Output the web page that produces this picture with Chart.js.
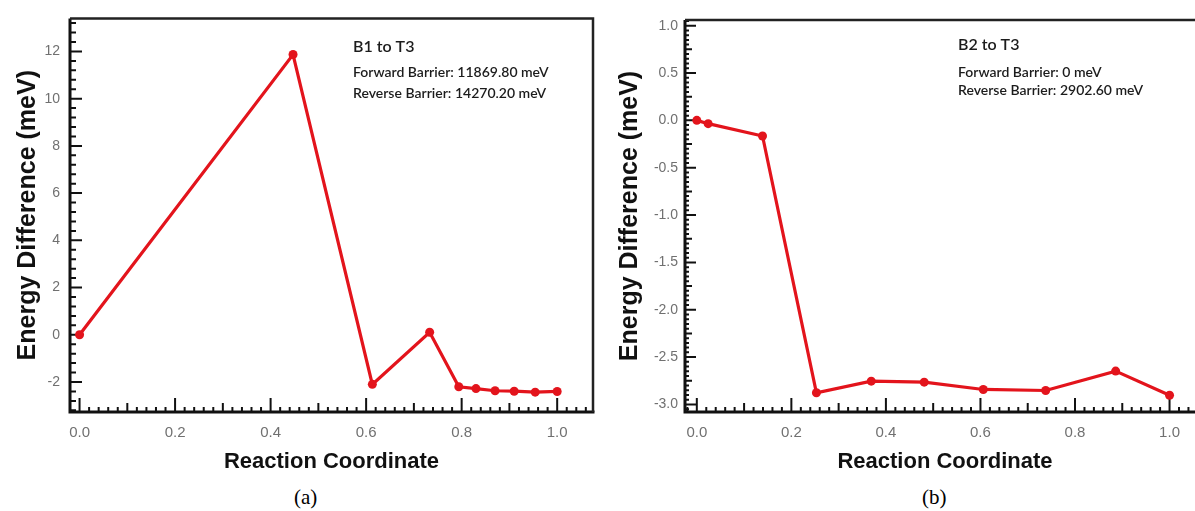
<!DOCTYPE html>
<html>
<head>
<meta charset="utf-8">
<script src="https://cdn.jsdelivr.net/npm/chart.js@4.4.0/dist/chart.umd.min.js"></script>
<style>
  html, body { margin: 0; padding: 0; background: #fff; overflow: hidden; }
  body { width: 1195px; height: 511px; position: relative; }
  .panel { position: absolute; top: 0; height: 475px; }
  #panelA { left: 0; width: 600px; }
  #panelB { left: 600px; width: 612px; }
  .cap { position: absolute; top: 485px; line-height: 24px; font-family: 'Liberation Serif', 'Times New Roman', serif; font-size: 21px; color: #000; }
</style>
</head>
<body>
<div class="panel" id="panelA"><canvas id="chartA"></canvas></div>
<div class="panel" id="panelB"><canvas id="chartB"></canvas></div>
<div class="cap" style="left:294px">(a)</div>
<div class="cap" style="left:922px">(b)</div>

<script>
// data
let xTickVals = [0, 0.2, 0.4, 0.6, 0.8, 1.0];

let coordA = [0, 0.447, 0.613, 0.733, 0.794, 0.830, 0.870, 0.910, 0.954, 1.0];
let energyA = [0, 11.87, -2.10, 0.11, -2.20, -2.28, -2.37, -2.39, -2.43, -2.40];
let yTicksA = [-2, 0, 2, 4, 6, 8, 10, 12];
let notesA = ['B1 to T3', 'Forward Barrier: 11869.80 meV', 'Reverse Barrier: 14270.20 meV'];

let coordB = [0, 0.024, 0.139, 0.253, 0.369, 0.481, 0.606, 0.738, 0.886, 1.0];
let energyB = [0, -0.035, -0.165, -2.877, -2.754, -2.765, -2.842, -2.853, -2.648, -2.903];
let yTicksB = [-3.0, -2.5, -2.0, -1.5, -1.0, -0.5, 0.0, 0.5, 1.0];
let notesB = ['B2 to T3', 'Forward Barrier: 0 meV', 'Reverse Barrier: 2902.60 meV'];

let red = '#e3141c';

// frame + inward tick marks, like the original plotting program
function tickRun(scale, step, mid, major, cb) {
  let start = Math.ceil(scale.min / step - 1e-9);
  let end = Math.floor(scale.max / step + 1e-9);
  for (let k = start; k <= end; k++) {
    let v = k * step;
    let kind = 'minor';
    if (Math.abs(v / major - Math.round(v / major)) < 1e-6) kind = 'major';
    else if (mid && Math.abs(v / mid - Math.round(v / mid)) < 1e-6) kind = 'mid';
    cb(scale.getPixelForValue(v), kind);
  }
}

const framePlugin = {
  id: 'frame',
  beforeDatasetsDraw(chart, args, o) {
    let ctx = chart.ctx;
    let a = chart.chartArea;
    let xs = chart.scales.x, ys = chart.scales.y;
    ctx.save();
    ctx.strokeStyle = '#111';
    ctx.lineWidth = 2;

    ctx.beginPath();
    tickRun(xs, o.xMinor, o.xMid, o.xMajor, (px, kind) => {
      let len = kind === 'major' ? 14 : (kind === 'mid' ? 9 : 5);
      ctx.moveTo(px, a.bottom);
      ctx.lineTo(px, a.bottom - len);
    });
    tickRun(ys, o.yMinor, o.yMid, o.yMajor, (py, kind) => {
      let len = kind === 'major' ? o.yMajorLen : (kind === 'mid' ? 7 : o.yMinorLen);
      ctx.moveTo(a.left, py);
      ctx.lineTo(a.left + len, py);
    });
    ctx.stroke();

    // axes
    ctx.lineWidth = 3;
    ctx.beginPath();
    ctx.moveTo(a.left, a.top);
    ctx.lineTo(a.left, a.bottom);
    ctx.lineTo(a.right + 1.5, a.bottom);
    ctx.stroke();

    // top / right border
    ctx.lineWidth = 2.5;
    ctx.strokeStyle = '#222';
    ctx.beginPath();
    ctx.moveTo(a.left, a.top);
    ctx.lineTo(a.right, a.top);
    if (o.closeRight) ctx.lineTo(a.right, a.bottom);
    ctx.stroke();
    ctx.restore();
  },
  afterDraw(chart, args, o) {
    let ctx = chart.ctx;
    let a = chart.chartArea;
    ctx.save();
    ctx.fillStyle = '#1c1c1c';
    ctx.textBaseline = 'middle';
    ctx.textAlign = 'left';
    o.notes.forEach((line, i) => {
      ctx.font = i === 0 ? '600 16px Lato' : '600 14px Lato';
      ctx.fillText(line, a.left + o.noteX, a.top + o.noteY[i]);
    });
    ctx.restore();
  }
};

function makeChart(canvasId, xs, ys, yTicks, cfg) {
  let points = xs.map((x, i) => ({ x: x, y: ys[i] }));
  return new Chart(document.getElementById(canvasId), {
    type: 'line',
    data: {
      datasets: [{
        data: points,
        borderColor: red,
        backgroundColor: red,
        borderWidth: 3.2,
        pointRadius: 4.5,
        pointHoverRadius: 4.5,
        pointBorderWidth: 0,
        tension: 0
      }]
    },
    options: {
      responsive: true,
      maintainAspectRatio: false,
      animation: false,
      events: [],
      layout: { padding: cfg.padding },
      plugins: {
        legend: { display: false },
        tooltip: { enabled: false },
        frame: cfg.frame
      },
      scales: {
        x: {
          type: 'linear',
          min: cfg.xMin,
          max: cfg.xMax,
          afterBuildTicks: s => { s.ticks = xTickVals.map(v => ({ value: v })); },
          afterFit: s => { s.height = cfg.xHeight; },
          grid: { display: false, drawTicks: false },
          border: { display: false },
          ticks: {
            padding: 12,
            color: '#707070',
            font: { family: 'Liberation Sans', size: 15 },
            maxRotation: 0,
            callback: v => v.toFixed(1)
          },
          title: {
            display: true,
            text: 'Reaction Coordinate',
            color: '#111',
            font: { family: 'Liberation Sans', size: 22, weight: 'bold' },
            padding: { top: 0, bottom: 0 }
          }
        },
        y: {
          min: cfg.yMin,
          max: cfg.yMax,
          afterBuildTicks: s => { s.ticks = yTicks.map(v => ({ value: v })); },
          afterFit: s => { s.width = cfg.yWidth; },
          grid: { display: false, drawTicks: false },
          border: { display: false },
          ticks: {
            padding: cfg.yPad,
            color: '#707070',
            font: { family: 'Liberation Sans', size: 14 },
            callback: cfg.yFmt
          },
          title: {
            display: true,
            text: 'Energy Difference (meV)',
            color: '#111',
            font: { family: 'Liberation Sans', size: 25, weight: 'bold' },
            padding: { top: cfg.yTitlePad, bottom: 0 }
          }
        }
      }
    },
    plugins: [framePlugin]
  });
}

makeChart('chartA', coordA, energyA, yTicksA, {
  padding: { top: 16, right: 7, left: 0, bottom: 0 },
  xMin: -0.02, xMax: 1.075, yMin: -3.27, yMax: 13.4,
  xHeight: 63, yWidth: 70, yPad: 10, yTitlePad: 13,
  yFmt: v => String(v),
  frame: {
    closeRight: true,
    xMinor: 0.02, xMid: 0.1, xMajor: 0.2,
    yMinor: 0.4, yMid: 0, yMajor: 2, yMajorLen: 12, yMinorLen: 6,
    notes: notesA, noteX: 283, noteY: [28, 54, 75]
  }
});

makeChart('chartB', coordB, energyB, yTicksB, {
  padding: { top: 20, right: 7, left: 0, bottom: 0 },
  xMin: -0.025, xMax: 1.075, yMin: -3.08, yMax: 1.06,
  xHeight: 63, yWidth: 85, yPad: 7, yTitlePad: 15,
  yFmt: v => v.toFixed(1),
  frame: {
    closeRight: false,
    xMinor: 0.02, xMid: 0.1, xMajor: 0.2,
    yMinor: 0.05, yMid: 0.25, yMajor: 0.5, yMajorLen: 11, yMinorLen: 4,
    notes: notesB, noteX: 273, noteY: [25, 52, 70]
  }
});
</script>
</body>
</html>
